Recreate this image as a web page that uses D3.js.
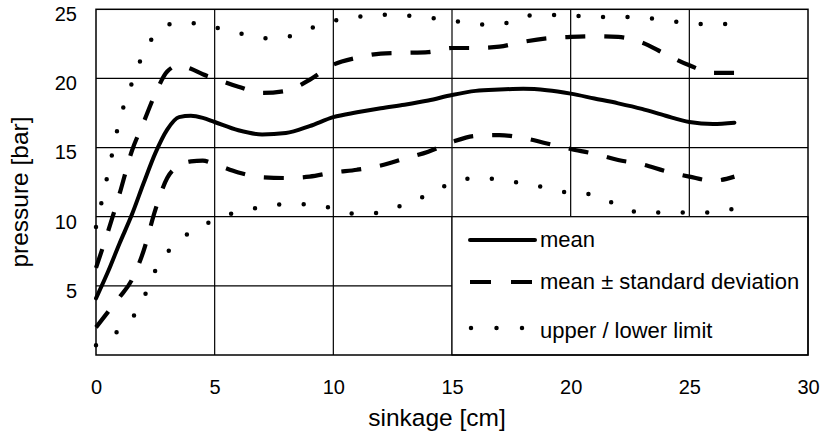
<!DOCTYPE html>
<html>
<head>
<meta charset="utf-8">
<script src="https://cdn.jsdelivr.net/npm/d3@7"></script>
<style>
  html, body { margin: 0; padding: 0; background: #fff; }
  svg { display: block; }
  text { font-family: "Liberation Sans", Arial, Helvetica, sans-serif; fill: #000; }
</style>
</head>
<body>
<svg id="chart" width="827" height="438"></svg>
<script>
// sinkage positions [cm]
const sinkage = [0, 0.5, 1, 1.5, 2, 2.5, 3, 3.5, 4, 4.5, 5, 6, 7, 8, 9, 10, 11, 12, 13,
                 14, 15, 16, 17, 18, 19, 20, 21, 22, 23, 24, 25, 26, 26.9];

// pressure [bar]
const meanPressure = [4.1, 6.0, 8.1, 10.1, 12.4, 14.6, 16.3, 17.2, 17.3, 17.15, 16.85, 16.25, 15.95,
                      16.05, 16.55, 17.2, 17.55, 17.85, 18.1, 18.4, 18.8, 19.1, 19.2, 19.25, 19.15,
                      18.9, 18.55, 18.2, 17.8, 17.3, 16.85, 16.7, 16.8];
const meanPlusSd   = [6.3, 8.9, 11.7, 14.7, 16.8, 18.9, 20.5, 20.95, 20.7, 20.3, 20.0, 19.4, 18.95,
                      19.1, 19.9, 21.0, 21.5, 21.8, 21.85, 21.9, 22.2, 22.2, 22.3, 22.65, 22.9,
                      23.0, 23.05, 23.0, 22.6, 21.75, 20.95, 20.4, 20.4];
const meanMinusSd  = [2.0, 3.1, 4.2, 5.4, 7.5, 10.5, 12.8, 13.7, 14.0, 14.05, 13.8, 13.2, 12.85,
                      12.8, 12.9, 13.2, 13.4, 13.7, 14.2, 14.7, 15.4, 15.85, 15.9, 15.7, 15.3,
                      14.9, 14.55, 14.1, 13.8, 13.3, 12.9, 12.6, 12.9];
const upperLimit   = [9.25, 13.1, 17.0, 19.6, 21.8, 23.2, 23.85, 24.05, 24.0, 23.9, 23.7, 23.3, 22.9,
                      23.0, 23.6, 24.15, 24.45, 24.6, 24.55, 24.4, 24.2, 23.9, 23.9, 24.5, 24.6,
                      24.55, 24.45, 24.45, 24.4, 24.2, 24.0, 23.9, 24.0];
const lowerLimit   = [0.7, 1.3, 1.8, 2.6, 4.1, 6.1, 7.4, 8.3, 8.9, 9.35, 9.8, 10.35, 10.7,
                      10.9, 10.9, 10.6, 10.2, 10.3, 10.9, 11.6, 12.45, 12.8, 12.7, 12.4, 12.1,
                      11.7, 11.6, 10.8, 10.3, 10.3, 10.3, 10.3, 10.6];

const xTicks = [0, 5, 10, 15, 20, 25, 30];
const yTicks = [5, 10, 15, 20, 25];
const legendLabels = ["mean", "mean \u00B1 standard deviation", "upper / lower limit"];

const svg = d3.select("#chart");
const x = d3.scaleLinear().domain([0, 30]).range([96, 808]);
const y = d3.scaleLinear().domain([0, 25]).range([355, 9.3]);

// grid
const grid = svg.append("g").attr("stroke", "#000").attr("stroke-width", 1.2);
grid.selectAll("line.v").data(xTicks.slice(1, -1)).join("line")
  .attr("x1", d => x(d)).attr("x2", d => x(d))
  .attr("y1", y(0)).attr("y2", y(25));
grid.selectAll("line.h").data(yTicks.slice(0, -1)).join("line")
  .attr("x1", x(0)).attr("x2", x(30))
  .attr("y1", d => y(d)).attr("y2", d => y(d));

// axes (labels only; the grid carries the ticks)
const xAxis = svg.append("g").attr("transform", `translate(0,${y(0)})`)
  .call(d3.axisBottom(x).tickValues(xTicks).tickSize(0).tickPadding(25));
xAxis.select(".domain").remove();
xAxis.selectAll("text").style("font-size", "20px").style("font-family", null);

const yAxis = svg.append("g").attr("transform", `translate(${x(0)},0)`)
  .call(d3.axisLeft(y).tickValues(yTicks).tickSize(0).tickPadding(19));
yAxis.select(".domain").remove();
yAxis.selectAll("text").attr("y", 5).style("font-size", "20px").style("font-family", null);

// axis titles
svg.append("text").attr("x", 437).attr("y", 426).attr("text-anchor", "middle")
  .style("font-size", "24.5px").text("sinkage [cm]");
svg.append("text").attr("transform", "translate(28,192) rotate(-90)").attr("text-anchor", "middle")
  .style("font-size", "24.5px").text("pressure [bar]");

// curves
const pts = vals => sinkage.map((s, i) => [s, vals[i]]);
const line = d3.line().x(d => x(d[0])).y(d => y(d[1])).curve(d3.curveMonotoneX);

const styles = {
  solid:  { w: 4, dash: null, cap: "round" },
  dashed: { w: 4.2, dash: "20,19", cap: "butt" },
  dotted: { w: 4.5, dash: "0,24.5", cap: "round" }
};
const series = [
  { v: upperLimit, s: styles.dotted },
  { v: lowerLimit, s: styles.dotted },
  { v: meanPlusSd, s: styles.dashed },
  { v: meanMinusSd, s: styles.dashed },
  { v: meanPressure, s: styles.solid }
];

// legend box covers the lower right grid cells
const lg = svg.append("g");
lg.append("rect")
  .attr("x", x(15)).attr("y", y(10))
  .attr("width", x(30) - x(15)).attr("height", y(0) - y(10))
  .attr("fill", "#fff").attr("stroke", "#000").attr("stroke-width", 1.2);

svg.append("g").selectAll("path").data(series).join("path")
  .attr("d", d => line(pts(d.v)))
  .attr("fill", "none").attr("stroke", "#000")
  .attr("stroke-width", d => d.s.w)
  .attr("stroke-dasharray", d => d.s.dash)
  .attr("stroke-linecap", d => d.s.cap)
  .attr("stroke-linejoin", "round");

// legend entries
const lx0 = x(15) + 18, lx1 = x(15) + 83;
const rowY = [240, 282, 328];
const legendStyles = [styles.solid, styles.dashed, styles.dotted];
legendStyles.forEach((st, i) => {
  const p = lg.append("line")
    .attr("x1", lx0 + (i === 2 ? 1 : 0)).attr("x2", lx1).attr("y1", rowY[i]).attr("y2", rowY[i])
    .attr("stroke", "#000").attr("stroke-width", st.w)
    .attr("stroke-linecap", st.cap);
  if (i === 1) p.attr("stroke-dasharray", "21,20");
  if (i === 2) p.attr("stroke-dasharray", "0,25.5");
  lg.append("text").attr("x", lx1 + 5).attr("y", rowY[i] + 7 + (i === 2 ? 3 : 0))
    .style("font-size", "22px").text(legendLabels[i]);
});

// plot frame
svg.append("rect")
  .attr("x", x(0)).attr("y", y(25))
  .attr("width", x(30) - x(0)).attr("height", y(0) - y(25))
  .attr("fill", "none").attr("stroke", "#000").attr("stroke-width", 1.5);
</script>
</body>
</html>
